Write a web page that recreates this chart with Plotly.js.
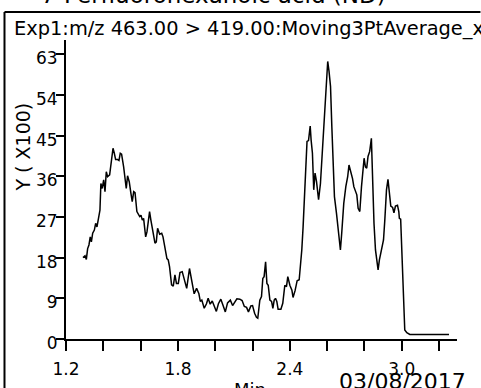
<!DOCTYPE html>
<html>
<head>
<meta charset="utf-8">
<script src="https://cdn.plot.ly/plotly-3.0.1.min.js"></script>
<style>html,body{margin:0;padding:0;background:#fff;}#chart{width:481px;height:388px;}</style>
</head>
<body>
<div id="chart"></div>
<script>
// retention time (min)
const times = [1.291,1.302,1.309,1.316,1.323,1.330,1.336,1.343,1.352,1.359,1.366,1.377,1.382,1.387,1.394,1.402,1.409,1.416,1.423,1.434,1.441,1.452,1.459,1.466,1.477,1.484,1.491,1.498,1.509,1.516,1.523,1.530,1.539,1.548,1.555,1.563,1.570,1.580,1.587,1.595,1.602,1.609,1.616,1.627,1.634,1.641,1.648,1.655,1.662,1.670,1.677,1.684,1.691,1.702,1.713,1.720,1.727,1.734,1.741,1.748,1.755,1.766,1.775,1.784,1.792,1.802,1.811,1.823,1.834,1.847,1.862,1.873,1.887,1.900,1.912,1.920,1.928,1.941,1.953,1.962,1.973,1.984,1.994,2.006,2.017,2.030,2.043,2.054,2.066,2.081,2.093,2.105,2.116,2.132,2.144,2.156,2.168,2.178,2.191,2.200,2.211,2.221,2.228,2.239,2.248,2.255,2.262,2.270,2.277,2.284,2.293,2.302,2.309,2.316,2.323,2.330,2.337,2.352,2.362,2.373,2.382,2.389,2.400,2.411,2.417,2.428,2.439,2.450,2.457,2.464,2.471,2.479,2.486,2.492,2.500,2.509,2.514,2.521,2.528,2.535,2.543,2.554,2.564,2.575,2.582,2.589,2.596,2.603,2.610,2.618,2.625,2.632,2.639,2.650,2.661,2.671,2.678,2.689,2.700,2.710,2.717,2.725,2.736,2.743,2.750,2.759,2.766,2.775,2.784,2.792,2.798,2.805,2.812,2.819,2.828,2.837,2.844,2.851,2.859,2.866,2.873,2.880,2.891,2.902,2.909,2.918,2.926,2.934,2.941,2.951,2.958,2.966,2.977,2.984,2.987,2.994,3.001,3.009,3.016,3.027,3.043,3.100,3.150,3.200,3.253];
// intensity in units of 100
const intensityX100 = [18.0,18.4,17.6,20.0,20.8,22.6,21.5,23.4,24.1,25.6,24.8,27.8,28.5,34.4,33.3,35.2,32.6,37.0,35.9,36.3,38.9,42.2,41.1,39.7,39.7,39.5,41.1,40.9,38.1,35.9,33.3,36.1,34.8,32.2,30.4,32.6,32.4,28.2,27.7,27.1,27.4,26.3,26.7,22.6,23.7,26.0,28.2,26.3,24.8,23.0,21.2,21.5,24.5,23.2,23.4,22.6,20.8,18.6,17.8,17.5,16.0,12.0,11.7,14.2,12.3,12.3,14.7,14.9,13.1,11.2,15.6,13.1,10.0,11.2,10.1,8.3,8.6,6.8,7.8,9.0,7.7,8.4,7.3,6.1,7.8,8.8,7.3,6.0,8.0,8.6,7.4,8.1,8.9,8.8,8.5,7.2,7.0,6.0,7.3,7.4,5.7,4.8,4.6,8.6,9.4,13.4,13.8,17.1,12.3,11.9,8.6,8.3,6.8,8.6,9.0,8.3,6.6,6.6,7.9,11.9,11.6,13.8,11.9,10.8,9.2,10.7,12.9,13.1,16.0,19.7,24.8,33.0,41.1,43.7,43.9,47.1,44.0,41.1,33.0,36.7,34.8,30.8,34.4,41.8,47.0,52.9,58.0,61.4,59.2,55.9,47.0,38.8,31.5,27.8,24.1,19.7,23.4,30.0,33.7,35.9,38.5,37.4,35.5,33.7,33.0,31.9,28.9,28.2,33.7,37.4,40.0,38.1,37.8,40.4,41.5,44.4,33.7,25.6,19.7,17.5,15.3,17.5,19.7,21.9,26.3,33.0,35.3,32.6,29.4,29.1,27.9,29.4,29.6,28.2,26.7,26.5,18.2,10.1,2.0,1.4,1.0,1.0,1.0,1.0,1.0];

const xTickVals = [1.2,1.4,1.6,1.8,2.0,2.2,2.4,2.6,2.8,3.0,3.2];
const xTickText = ["1.2","","","1.8","","","2.4","","","3.0",""];
const yTickVals = [0,9,18,27,36,45,54,63];

const FONT = "DejaVu Sans";

const trace = {
  x: times, y: intensityX100, type: "scatter", mode: "lines",
  line: {color: "#000", width: 1.5}, hoverinfo: "skip", showlegend: false
};

const layout = {
  width: 481, height: 388,
  margin: {l: 66, r: 24, t: 40, b: 49, pad: 0},
  paper_bgcolor: "#fff", plot_bgcolor: "#fff",
  font: {family: FONT, color: "#000", size: 17},
  showlegend: false,
  xaxis: {
    range: [1.2, 3.296], showgrid: false, zeroline: false,
    showline: true, linecolor: "#000", linewidth: 2,
    ticks: "outside", ticklen: 10, tickwidth: 2, tickcolor: "#000",
    tickmode: "array", tickvals: xTickVals, ticktext: xTickText,
    ticklabelstandoff: 4,
    tickfont: {family: FONT, size: 17, color: "#000"}
  },
  yaxis: {
    range: [0, 66.15], showgrid: false, zeroline: false,
    showline: true, linecolor: "#000", linewidth: 2,
    ticks: "outside", ticklen: 8, tickwidth: 2, tickcolor: "#000",
    tickmode: "array", tickvals: yTickVals, ticktext: yTickVals.map(String),
    ticklabelstandoff: -5, ticklabelshift: 4,
    tickfont: {family: FONT, size: 17, color: "#000"}
  },
  shapes: [
    {type: "line", xref: "paper", yref: "paper", x0: -0.1573, x1: 1.06, y0: 1.0936, y1: 1.0936, line: {color: "#000", width: 2}},
    {type: "line", xref: "paper", yref: "paper", x0: -0.1573, x1: -0.1573, y0: 1.0936, y1: -0.17, line: {color: "#000", width: 2}}
  ],
  annotations: [
    {text: "7-Perfluorohexanoic acid (ND)", xref: "paper", yref: "paper", x: 0.376, y: 1.1506, xanchor: "center", yanchor: "middle", showarrow: false, font: {family: FONT, size: 23, color: "#000"}},
    {text: "Exp1:m/z 463.00 > 419.00:Moving3PtAverage_x", xref: "paper", yref: "paper", x: -0.1381, y: 1.0368, xanchor: "left", yanchor: "middle", showarrow: false, font: {family: FONT, size: 19.4, color: "#000"}},
    {text: "Y ( X100)", xref: "paper", yref: "paper", x: -0.1087, y: 0.642, xanchor: "center", yanchor: "middle", textangle: -90, showarrow: false, font: {family: FONT, size: 19, color: "#000"}},
    {text: "Min", xref: "paper", yref: "paper", x: 0.4706, y: -0.169, xanchor: "center", yanchor: "middle", showarrow: false, font: {family: FONT, size: 18, color: "#000"}},
    {text: "03/08/2017", xref: "paper", yref: "paper", x: 0.6938, y: -0.1418, xanchor: "left", yanchor: "middle", showarrow: false, font: {family: FONT, size: 22, color: "#000"}}
  ]
};

Plotly.newPlot("chart", [trace], layout, {staticPlot: true, displayModeBar: false});
</script>
</body>
</html>
